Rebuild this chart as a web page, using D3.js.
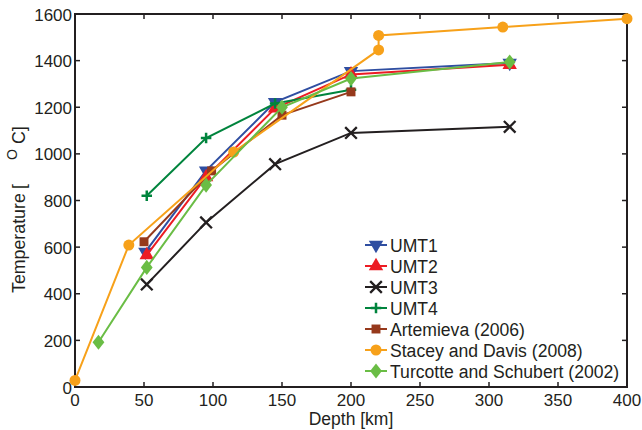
<!DOCTYPE html>
<html><head><meta charset="utf-8">
<script src="https://cdn.jsdelivr.net/npm/d3@7"></script>
<style>body{margin:0;background:#fff}svg{display:block}text{font-family:"Liberation Sans",Arial,sans-serif;fill:#231f20}</style>
</head><body><svg id="c" width="642" height="430"></svg>
<script>
const seriesNames = ["UMT1","UMT2","UMT3","UMT4","Artemieva (2006)","Stacey and Davis (2008)","Turcotte and Schubert (2002)"];
const umt1 = [[51,580],[95,928],[145,1222],[200,1355],[315,1390]];
const umt2 = [[52,566],[95,900],[145,1195],[200,1341],[315,1382]];
const umt3 = [[52,440],[95,706],[145,956],[200,1090],[315,1116]];
const umt4 = [[52,820],[95,1068],[145,1216],[200,1275]];
const artemieva = [[50,623],[99,927],[150,1166],[200,1266]];
const stacey = [[0,28],[39,609],[115,1008],[220,1446],[220,1508],[310,1544],[400,1580]];
const turcotte = [[17,192],[52,513],[95,866],[150,1200],[200,1323],[315,1394]];
const xTicks = [0,50,100,150,200,250,300,350,400];
const yTicks = [0,200,400,600,800,1000,1200,1400,1600];

const colors = ["#2f4ea1","#ec1c24","#231f20","#00843d","#96391c","#f7a11a","#6abd45"];
const symbols = ["tridown","triangle","times","plus","square","circle","diamond"];
const data = [umt1,umt2,umt3,umt4,artemieva,stacey,turcotte];

const svg = d3.select("#c");
const L=75,R=627,T=14,B=387;
const x = d3.scaleLinear().domain([0,400]).range([L,R]);
const y = d3.scaleLinear().domain([0,1600]).range([B,T]);
const axisCol = "#231f20";

function sym(g, type, col, cx, cy) {
  const tr = `translate(${cx},${cy})`;
  if (type==="tridown") g.append("path").attr("d", d3.symbol(d3.symbolTriangle, 90)()).attr("transform",tr+" rotate(180)").attr("fill",col);
  else if (type==="triangle") g.append("path").attr("d", d3.symbol(d3.symbolTriangle, 90)()).attr("transform",tr).attr("fill",col);
  else if (type==="times") g.append("path").attr("d", d3.symbol(d3.symbolTimes, 90)()).attr("transform",tr).attr("fill","none").attr("stroke",col).attr("stroke-width",2.3);
  else if (type==="plus") g.append("path").attr("d", d3.symbol(d3.symbolPlus, 38)()).attr("transform",tr).attr("fill","none").attr("stroke",col).attr("stroke-width",2.5);
  else if (type==="square") g.append("path").attr("d", d3.symbol(d3.symbolSquare, 80)()).attr("transform",tr).attr("fill",col);
  else if (type==="circle") g.append("path").attr("d", d3.symbol(d3.symbolCircle, 95)()).attr("transform",tr).attr("fill",col);
  else if (type==="diamond") g.append("path").attr("d", d3.symbol(d3.symbolDiamond, 66)()).attr("transform",tr+" scale(1.35,1)").attr("fill",col);
}

// axes frame with inward ticks
const ax = svg.append("g");
ax.append("rect").attr("x",L).attr("y",T).attr("width",R-L).attr("height",B-T).attr("fill","none").attr("stroke",axisCol).attr("stroke-width",2);
xTicks.forEach(t=>{
  ax.append("line").attr("x1",x(t)).attr("x2",x(t)).attr("y1",B).attr("y2",B-5).attr("stroke",axisCol).attr("stroke-width",1.5);
  ax.append("line").attr("x1",x(t)).attr("x2",x(t)).attr("y1",T).attr("y2",T+5).attr("stroke",axisCol).attr("stroke-width",1.5);
  ax.append("text").attr("x",x(t)).attr("y",405.5).attr("text-anchor","middle").attr("font-size",17).text(t);
});
yTicks.forEach(t=>{
  ax.append("line").attr("x1",L).attr("x2",L+5).attr("y1",y(t)).attr("y2",y(t)).attr("stroke",axisCol).attr("stroke-width",1.5);
  ax.append("line").attr("x1",R).attr("x2",R-5).attr("y1",y(t)).attr("y2",y(t)).attr("stroke",axisCol).attr("stroke-width",1.5);
  ax.append("text").attr("x",L-3).attr("y",y(t)+6.5).attr("text-anchor","end").attr("font-size",17).text(t);
});
ax.append("text").attr("x",(L+R)/2).attr("y",425).attr("text-anchor","middle").attr("font-size",17.5).text("Depth [km]");
const yl = ax.append("text").attr("transform","translate(25,293) rotate(-90)").attr("font-size",17.8);
yl.append("tspan").attr("x",0).attr("y",0).text("Temperature");
yl.append("tspan").attr("x",104).attr("y",0).text("[");
yl.append("tspan").attr("x",133).attr("y",-8).attr("font-size",14).text("O");
yl.append("tspan").attr("x",149).attr("y",0).text("C]");

const line = d3.line().x(d=>x(d[0])).y(d=>y(d[1]));
data.forEach((s,i)=>{
  const g = svg.append("g");
  g.append("path").attr("d",line(s)).attr("fill","none").attr("stroke",colors[i]).attr("stroke-width",2);
  s.forEach(d=>sym(g,symbols[i],colors[i],x(d[0]),y(d[1])));
});

// legend
const lg = svg.append("g");
seriesNames.forEach((n,i)=>{
  const yy = 245 + i*21;
  lg.append("line").attr("x1",365).attr("x2",387).attr("y1",yy).attr("y2",yy).attr("stroke",colors[i]).attr("stroke-width",2);
  sym(lg,symbols[i],colors[i],376,yy);
  lg.append("text").attr("x",390).attr("y",yy+6.5).attr("font-size",17.6).text(n);
});
</script></body></html>
